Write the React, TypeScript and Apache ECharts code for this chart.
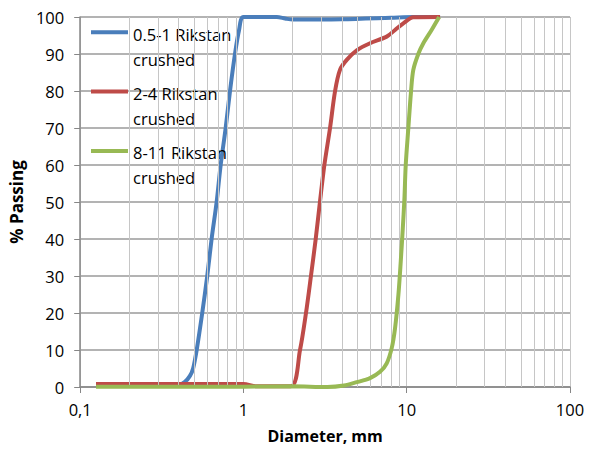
import React, { useEffect, useRef } from "react";
import * as echarts from "echarts";

const seriesNames = ["0.5-1 Rikstan crushed", "2-4 Rikstan crushed", "8-11 Rikstan crushed"];
const legendLines = [["0.5-1 Rikstan", "crushed"], ["2-4 Rikstan", "crushed"], ["8-11 Rikstan", "crushed"]];
const colors = ["#4A7EBB", "#BE4B48", "#98B954"];

const blueData = [
  [0.125, 0.3], [0.2, 0.3], [0.3, 0.3], [0.4, 0.5], [0.438, 1.4], [0.47, 3], [0.492, 5.1],
  [0.517, 10], [0.559, 20], [0.6, 30], [0.638, 40], [0.685, 50], [0.725, 60], [0.778, 70],
  [0.827, 80], [0.887, 90], [0.94, 96.5], [1.0, 100], [1.6, 100], [1.8, 99.6], [2.0, 99.3],
  [4, 99.4], [8, 99.8], [11, 100], [16, 100],
];
const redData = [
  [0.125, 0.8], [0.5, 0.8], [1.0, 0.8], [1.2, 0.2], [1.95, 0.2], [2.22, 10], [2.415, 20],
  [2.59, 30], [2.77, 40], [2.94, 50], [3.13, 60], [3.39, 70], [3.64, 80], [3.9, 85.7],
  [4.29, 88.4], [4.94, 91], [5.96, 92.9], [7.54, 94.7], [8.48, 96.5], [9.53, 98.3],
  [10.97, 99.9], [16, 100],
];
const greenData = [
  [0.125, 0.1], [1, 0.1], [2, 0.2], [3.26, 0], [4.13, 0.4], [4.94, 1.3], [5.96, 2.4],
  [6.86, 4.1], [7.54, 6.4], [8.09, 10.5], [8.48, 15.9], [8.89, 24.9], [9.19, 33.9],
  [9.46, 42.9], [9.67, 50.5], [9.86, 60], [10.23, 70], [10.63, 80], [10.97, 85.7],
  [11.77, 90], [12.64, 92.9], [14.2, 96.5], [15.8, 100],
];
const allData = [blueData, redData, greenData];

const minorGridX = [
  0.2, 0.3, 0.4, 0.5, 0.6, 0.7, 0.8, 0.9,
  2, 3, 4, 5, 6, 7, 8, 9,
  20, 30, 40, 50, 60, 70, 80, 90,
];
const xTickLabels: Record<string, string> = { "0.1": "0,1", "1": "1", "10": "10", "100": "100" };

const FONT = "Open Sans";
// legend icon: a 4px bar near the top of a 37x50 box (tiny corner dots fix the box)
const LEGEND_ICON =
  "path://M0,0h0.01v0.01h-0.01Z M0,8.8h37v4h-37Z M36.99,49.99h0.01v0.01h-0.01Z";

export default function App() {
  const ref = useRef<HTMLDivElement>(null);
  useEffect(() => {
    if (!ref.current) return;
    const chart = echarts.init(ref.current, null, { renderer: "svg" });
    const lineSeries = allData.map((d, i) => ({
      name: seriesNames[i],
      type: "line",
      data: d,
      symbol: "none",
      smooth: 0.3,
      clip: false,
      z: 3 + i,
      lineStyle: { color: colors[i], width: 4 },
      itemStyle: { color: colors[i] },
    }));
    chart.setOption({
      animation: false,
      backgroundColor: "#ffffff",
      grid: { left: 80, right: 21, top: 17, bottom: 70 },
      legend: {
        orient: "vertical",
        left: 91,
        top: 21.5,
        padding: 0,
        itemGap: 9.3,
        itemWidth: 37,
        itemHeight: 50,
        icon: LEGEND_ICON,
        data: seriesNames,
        formatter: (name: string) => legendLines[seriesNames.indexOf(name)].join("\n"),
        textStyle: {
          fontFamily: FONT,
          fontSize: 16.5,
          lineHeight: 25,
          color: "#000",
        },
        selectedMode: false,
      },
      xAxis: {
        type: "log",
        logBase: 10,
        min: 0.1,
        max: 100,
        name: "Diameter, mm",
        nameLocation: "middle",
        nameGap: 41,
        nameTextStyle: { fontFamily: FONT, fontSize: 16, fontWeight: "bold", color: "#000" },
        axisLine: { show: true, lineStyle: { color: "#868686", width: 1.5 } },
        axisTick: { show: true, length: 6, lineStyle: { color: "#868686" } },
        axisLabel: {
          fontFamily: FONT,
          fontSize: 16.5,
          color: "#000",
          margin: 14,
          formatter: (v: number) => {
            const k = String(Math.round(v * 1000) / 1000);
            return xTickLabels[k] ?? k;
          },
        },
        splitLine: { show: true, lineStyle: { color: "#c6c6c6", width: 1 } },
      },
      yAxis: {
        type: "value",
        min: 0,
        max: 100,
        interval: 10,
        name: "% Passing",
        nameLocation: "middle",
        nameGap: 52,
        nameTextStyle: { fontFamily: FONT, fontSize: 17, fontWeight: "bold", color: "#000" },
        axisLine: { show: true, lineStyle: { color: "#868686", width: 1.5 } },
        axisTick: { show: true, length: 6, lineStyle: { color: "#868686" } },
        axisLabel: { fontFamily: FONT, fontSize: 16.5, color: "#000", margin: 16 },
        splitLine: { show: true, lineStyle: { color: "#9a9a9a", width: 1.5 } },
      },
      series: [
        {
          type: "line",
          data: [],
          z: 1,
          silent: true,
          markLine: {
            silent: true,
            symbol: "none",
            label: { show: false },
            lineStyle: { color: "#c6c6c6", width: 1, type: "solid" },
            data: minorGridX.map((x) => ({ xAxis: x })),
          },
        },
        ...lineSeries,
      ],
    });
    return () => chart.dispose();
  }, []);
  return (
    <div
      ref={ref}
      style={{ position: "fixed", left: 0, top: 0, width: 591, height: 457, background: "#fff" }}
    />
  );
}
